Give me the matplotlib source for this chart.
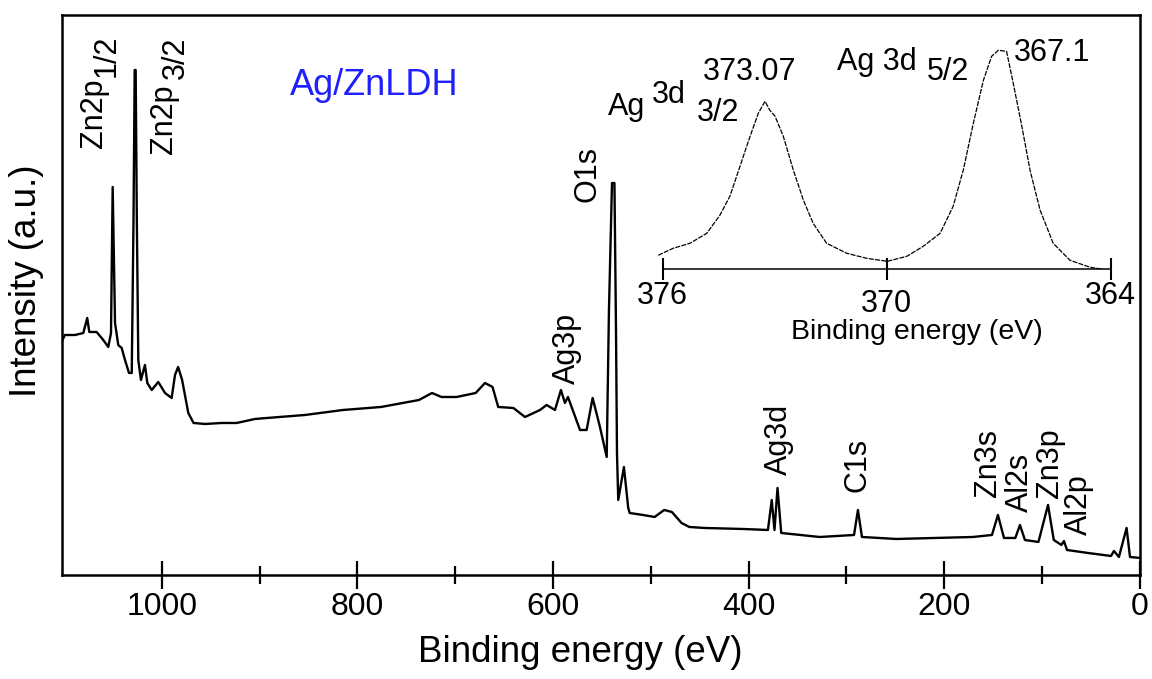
import matplotlib
matplotlib.use("Agg")
import matplotlib.pyplot as plt
from matplotlib.transforms import ScaledTranslation

plt.rcParams['font.family'] = ['Liberation Sans', 'DejaVu Sans']

# Survey spectrum (binding energy in eV, intensity in arbitrary units)
survey_be = [1101.4, 1098.9, 1088.6, 1080.1, 1076.1, 1074.0, 1066.5, 1059.7, 1054.6, 1051.8,
             1050.1, 1047.7, 1044.4, 1040.9, 1037.5, 1033.4, 1030.6, 1028.8, 1027.6, 1026.6,
             1025.4, 1023.9, 1021.2, 1017.1, 1014.7, 1010.2, 1003.5, 996.6, 989.8, 986.4,
             983.2, 979.1, 972.8, 967.4, 955.7, 938.6, 923.4, 904.6, 892.4, 853.5,
             814.7, 775.8, 737.0, 723.7, 714.0, 698.5, 679.0, 669.5, 661.8, 656.0,
             640.5, 628.6, 613.3, 606.5, 598.0, 591.9, 587.8, 584.7, 572.4, 565.6,
             559.5, 552.0, 545.1, 542.8, 539.7, 537.2, 535.6, 534.6, 533.3, 527.5,
             523.1, 521.6, 507.9, 496.1, 486.3, 478.5, 468.6, 460.7, 445.1, 405.8,
             380.3, 376.4, 373.6, 370.5, 366.7, 327.4, 292.3, 288.3, 284.2, 249.0,
             209.9, 170.7, 151.3, 145.2, 139.0, 127.4, 122.7, 117.6, 103.8, 94.0,
             88.1, 80.3, 77.7, 74.6, 53.2, 29.6, 26.6, 21.5, 13.7, 10.2, 0.0]
survey_int = [235, 240, 240, 242, 257, 243, 243, 235, 228, 242,
              388, 252, 230, 227, 215, 202, 202, 355, 505, 505,
              355, 215, 195, 210, 192, 185, 193, 182, 177, 200,
              208, 195, 162, 152, 151, 152, 152, 156, 157, 160,
              165, 168, 175, 182, 178, 178, 182, 192, 188, 168,
              167, 158, 165, 170, 165, 185, 172, 178, 145, 145,
              177, 148, 118, 265, 392, 392, 245, 122, 75, 108,
              67, 62, 60, 58, 65, 63, 52, 48, 47, 46,
              45, 75, 45, 87, 42, 38, 40, 65, 38, 36,
              37, 38, 40, 60, 37, 37, 50, 35, 33, 70,
              35, 30, 34, 25, 22, 19, 24, 18, 47, 18, 17]

# Ag 3d high-resolution inset
ag_be = [376.12, 375.72, 375.27, 374.82, 374.47, 374.2, 373.93, 373.66, 373.44, 373.26,
         373.13, 372.99, 372.77, 372.5, 372.23, 371.97, 371.61, 371.07, 370.54, 369.98,
         369.46, 369.02, 368.57, 368.22, 367.95, 367.68, 367.41, 367.19, 367.01, 366.79,
         366.61, 366.38, 366.16, 365.89, 365.54, 365.09, 364.55, 364.2]
ag_int = [14, 21, 26, 36, 54, 73, 103, 133, 156, 168,
          159, 153, 133, 99, 69, 46, 26, 16, 11, 8,
          13, 23, 36, 63, 99, 146, 189, 213, 219, 218,
          186, 143, 99, 59, 26, 9, 2, 0]

# peak labels: text, x (eV), y
peak_labels = [("Zn2p", 1069.2, 462),
               ("1/2", 1055.9, 519),
               ("Zn2p", 997.7, 456),
               ("3/2", 985.4, 517),
               ("O1s", 565.0, 401),
               ("Ag3p", 586.0, 227),
               ("Ag3d", 369.5, 136),
               ("C1s", 288.8, 110),
               ("Zn3s", 154.9, 112),
               ("Al2s", 122.2, 93),
               ("Zn3p", 91.5, 112),
               ("Al2p", 62.9, 70)]

# inset annotations: text, x (eV), y
inset_labels = [("Ag", 376.96, 162), ("3d", 375.83, 174), ("3/2", 374.51, 156),
                ("373.07", 373.66, 197), ("Ag 3d", 370.27, 207), ("5/2", 368.35, 197),
                ("367.1", 365.58, 216)]

fig = plt.figure(figsize=(11.52, 6.79), dpi=100)
ax = fig.add_axes([0.05356, 0.1532, 0.936, 0.8247])
ax.plot(survey_be, survey_int, color='black', lw=1.7)
ax.set_xlim(1102.2, 0)
ax.set_ylim(0, 560)
ax.set_xticks([1000, 800, 600, 400, 200, 0])
ax.set_xticks([900, 700, 500, 300, 100], minor=True)
ax.tick_params(axis='x', which='major', direction='inout', length=20, width=1.6,
               labelsize=23, pad=2)
ax.tick_params(axis='x', which='minor', direction='inout', length=13, width=1.6)
ax.tick_params(axis='y', left=False, labelleft=False)
for s in ax.spines.values():
    s.set_linewidth(1.8)

ax.set_xlabel("Binding energy (eV)", fontsize=26.5)
ax.xaxis.set_label_coords(0.4807, -0.108)
ax.set_ylabel("Intensity (a.u.)", fontsize=26.5)
ax.yaxis.set_label_coords(-0.016, 0.526)

for txt, x, y in peak_labels:
    ax.text(x, y, txt, rotation=90, ha='center', va='center', fontsize=22)

ax.text(783, 490, "Ag/ZnLDH", color='#1f1fff', fontsize=26, ha='center', va='center')

# inset
ax_in = fig.add_axes([0.5686, 0.6034, 0.4019, 0.3377])
ax_in.patch.set_alpha(0)
ax_in.plot(ag_be, ag_int, color='black', lw=0.9, ls=(0, (4, 1)))
ax_in.set_xlim(376.206, 363.804)
ax_in.set_ylim(0, 229.3)
for side in ['top', 'left', 'right']:
    ax_in.spines[side].set_visible(False)
ax_in.spines['bottom'].set_bounds(364, 376)
ax_in.spines['bottom'].set_linewidth(1.1)
ax_in.set_xticks([376, 370, 364])
ax_in.tick_params(axis='x', direction='inout', length=16.5, width=1.5, labelsize=22, pad=0)
ax_in.tick_params(axis='y', left=False, labelleft=False)
for lab in ax_in.get_xticklabels():
    if lab.get_text() == '370':
        lab.set_transform(lab.get_transform() + ScaledTranslation(0, -6 / 72, fig.dpi_scale_trans))
ax_in.set_xlabel("Binding energy (eV)", fontsize=20.5)
ax_in.xaxis.set_label_coords(0.566, -0.215)

for txt, x, y in inset_labels:
    ax_in.text(x, y, txt, fontsize=22, ha='center', va='center')

fig.savefig("out.png", dpi=100)
